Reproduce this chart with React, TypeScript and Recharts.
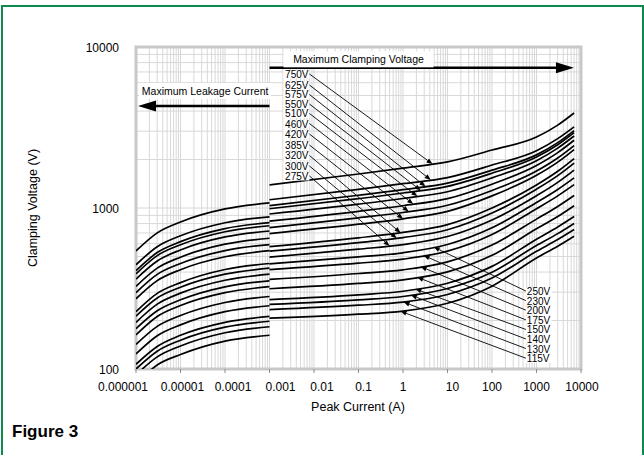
import React from 'react';
import {
  LineChart,
  Line,
  XAxis,
  YAxis,
  CartesianGrid,
  ReferenceLine,
  ReferenceDot,
  ReferenceArea,
} from 'recharts';

const FONT = "'Liberation Sans', Arial, sans-serif";

// varistor ratings, top curve first
const ratings = [
  '750V', '625V', '575V', '550V', '510V', '460V', '420V', '385V', '320V', '300V', '275V',
  '250V', '230V', '200V', '175V', '150V', '140V', '130V', '115V',
];

// leakage segment (A) and clamping segment (A)
const leakCurrents = [0.000001, 0.000003, 0.00001, 0.0001, 0.001];
const clampCurrents = [0.001, 0.1, 1, 10, 100, 1000, 3000, 7000];

// volts, one row per rating
const leakVolts = [
  [541, 701, 819, 987, 1075],
  [444, 575, 672, 810, 882],
  [408, 529, 618, 745, 811],
  [390, 506, 591, 712, 776],
  [362, 469, 549, 661, 720],
  [326, 423, 495, 596, 649],
  [298, 387, 452, 544, 593],
  [273, 354, 414, 498, 543],
  [227, 295, 344, 415, 452],
  [213, 276, 322, 388, 423],
  [195, 253, 296, 356, 388],
  [178, 230, 269, 324, 353],
  [163, 212, 248, 298, 325],
  [142, 184, 215, 259, 282],
  [124, 161, 188, 227, 247],
  [107, 138, 162, 195, 212],
  [100, 129, 151, 182, 198],
  [92, 119, 139, 168, 183],
  [81, 106, 123, 149, 162],
];

const clampVolts = [
  [1390, 1626, 1770, 1932, 2291, 2761, 3273, 3890],
  [1125, 1306, 1416, 1545, 1849, 2270, 2698, 3192],
  [1035, 1200, 1300, 1426, 1718, 2138, 2547, 3027],
  [990, 1143, 1239, 1361, 1644, 2075, 2472, 2938],
  [918, 1057, 1146, 1262, 1538, 1968, 2355, 2800],
  [828, 953, 1033, 1143, 1406, 1837, 2208, 2636],
  [756, 869, 938, 1040, 1285, 1698, 2046, 2443],
  [693, 793, 857, 953, 1189, 1596, 1928, 2307],
  [576, 653, 705, 789, 1000, 1390, 1690, 2028],
  [540, 610, 655, 733, 931, 1309, 1589, 1901],
  [495, 555, 593, 665, 843, 1191, 1442, 1718],
  [450, 497, 527, 593, 753, 1081, 1303, 1538],
  [414, 454, 481, 540, 685, 989, 1189, 1396],
  [360, 392, 413, 463, 589, 853, 1023, 1197],
  [315, 340, 358, 401, 508, 743, 885, 1033],
  [270, 289, 304, 341, 434, 640, 762, 885],
  [252, 269, 282, 316, 399, 585, 693, 802],
  [234, 249, 260, 290, 367, 538, 637, 735],
  [207, 219, 229, 256, 327, 489, 579, 668],
];

const xDecades = [0.000001, 0.00001, 0.0001, 0.001, 0.01, 0.1, 1, 10, 100, 1000, 10000];
const xTickLabels = ['0.000001', '0.00001', '0.0001', '0.001', '0.01', '0.1', '1', '10', '100', '1000', '10000'];
const yTickLabels = ['100', '1000', '10000'];

// labels on the left stack (750V..275V) and right stack (250V..115V)
const upperLabelCurrent = 0.0079;
const upperLabelVolts = [6798, 5808, 5070, 4426, 3864, 3348, 2881, 2462, 2119, 1824, 1581];
const upperTipCurrents = [4.6, 4.2, 3.2, 2.5, 2.1, 1.7, 1.34, 1.0, 0.88, 0.72, 0.5];
const lowerLabelCurrent = 577;
const lowerLabelVolts = [305, 266, 232, 202, 176, 153.6, 134, 116.7];
const lowerTipCurrents = [4.9, 2.9, 2.5, 2.1, 1.9, 1.5, 1.03, 0.88];

// tick label nudges (px), the original labels are not centred on the ticks
const xLabelShift = [-13, 2, 8, 11, 8, 5, 0, 5, 0, 0, 1];

const steps = [1, 2, 3, 4, 5, 6, 7, 8, 9];
const xGridTicks = xDecades.slice(0, -1).flatMap((d) => steps.map((k) => k * d)).concat([10000]);
const yGridTicks = [100, 1000].flatMap((d) => steps.map((k) => k * d)).concat([10000]);

const curves = ratings.map((name, r) => ({
  name,
  leak: leakCurrents.map((i, k) => ({ i, v: leakVolts[r][k] })),
  clamp: clampCurrents.map((i, k) => ({ i, v: clampVolts[r][k] })),
}));

function voltageAt(volts: number[], amps: number) {
  for (let k = 0; k < clampCurrents.length - 1; k++) {
    const a = clampCurrents[k];
    const b = clampCurrents[k + 1];
    if (amps >= a && amps <= b) {
      const t = Math.log(amps / a) / Math.log(b / a);
      return volts[k] * Math.pow(volts[k + 1] / volts[k], t);
    }
  }
  return volts[volts.length - 1];
}

const XTick = (props: any) => {
  const { x, y, index } = props;
  if (index % 9 !== 0) return <g />;
  const d = index / 9;
  return (
    <g>
      <line x1={x} x2={x} y1={y - 8} y2={y - 4} stroke="#8c8c8c" strokeWidth={1} />
      <text x={x + xLabelShift[d]} y={y + 13.5} textAnchor="middle" fontSize={12} fontFamily={FONT} fill="#000">
        {xTickLabels[d]}
      </text>
    </g>
  );
};

const YTick = (props: any) => {
  const { y, index } = props;
  if (index % 9 !== 0) return <g />;
  return (
    <text x={119} y={y + 4.5} textAnchor="end" fontSize={12} fontFamily={FONT} fill="#000">
      {yTickLabels[index / 9]}
    </text>
  );
};

const Leader = (props: any) => {
  const { x1, y1, x2, y2, text, side } = props;
  const dx = x2 - x1;
  const dy = y2 - y1;
  const len = Math.hypot(dx, dy) || 1;
  const ux = dx / len;
  const uy = dy / len;
  const hl = 6;
  const hw = 2.4;
  const bx = x2 - ux * hl;
  const by = y2 - uy * hl;
  const head = `${x2},${y2} ${bx - uy * hw},${by + ux * hw} ${bx + uy * hw},${by - ux * hw}`;
  const left = side === 'left';
  return (
    <g>
      <rect x={left ? x1 - 26 : x1} y={y1 - 3.5} width={26} height={8} fill="#fff" />
      <line x1={x1} y1={y1} x2={bx} y2={by} stroke="#000" strokeWidth={0.9} />
      <polygon points={head} fill="#000" />
      <text
        x={left ? x1 - 1 : x1 + 1}
        y={y1 + 4}
        textAnchor={left ? 'end' : 'start'}
        fontSize={10}
        fontFamily={FONT}
        fill="#000"
      >
        {text}
      </text>
    </g>
  );
};

const BigArrow = (props: any) => {
  const { x1, y1, x2, y2 } = props;
  const dir = Math.sign(x2 - x1);
  const hl = 18;
  const hw = 5.5;
  return (
    <g>
      <line x1={x1} y1={y1} x2={x2 - dir * hl} y2={y2} stroke="#000" strokeWidth={2.4} />
      <polygon points={`${x2},${y2} ${x2 - dir * hl},${y2 - hw} ${x2 - dir * hl},${y2 + hw}`} fill="#000" />
    </g>
  );
};

const Note = (props: any) => {
  const { cx, cy, text, w } = props;
  return (
    <g>
      <rect x={cx - w / 2} y={cy - 8} width={w} height={16} fill="#fff" />
      <text x={cx} y={cy + 4} textAnchor="middle" fontSize={10.5} fontFamily={FONT} fill="#000">
        {text}
      </text>
    </g>
  );
};

export default function App() {
  return (
    <div style={{ position: 'absolute', left: 0, top: 0, width: 644, height: 455, background: '#fff', overflow: 'hidden' }}>
      <div
        style={{
          position: 'absolute',
          left: 1,
          top: 5,
          width: 639,
          height: 470,
          border: '2px solid #0d8a4e',
        }}
      />
      <div style={{ position: 'absolute', left: 0, top: 0 }}>
        <LineChart width={644} height={455} margin={{ top: 47, right: 63, bottom: 56, left: 76 }}>
          <CartesianGrid stroke="#d8d8d8" strokeWidth={1} />
          <XAxis
            type="number"
            dataKey="i"
            scale="log"
            domain={[0.000001, 10000]}
            ticks={xGridTicks}
            interval={0}
            tick={<XTick />}
            tickLine={false}
            axisLine={false}
            allowDataOverflow
            height={30}
          />
          <YAxis
            type="number"
            dataKey="v"
            scale="log"
            domain={[100, 10000]}
            ticks={yGridTicks}
            interval={0}
            tick={<YTick />}
            tickLine={false}
            axisLine={false}
            allowDataOverflow
            width={60}
          />
          {curves.map((c) => (
            <Line
              key={c.name + '-leak'}
              data={c.leak}
              dataKey="v"
              type="monotone"
              stroke="#000"
              strokeWidth={1.7}
              dot={false}
              isAnimationActive={false}
            />
          ))}
          {curves.map((c) => (
            <Line
              key={c.name + '-clamp'}
              data={c.clamp}
              dataKey="v"
              type="monotone"
              stroke="#000"
              strokeWidth={1.7}
              dot={false}
              isAnimationActive={false}
            />
          ))}
          <ReferenceArea
            x1={0.000001}
            x2={10000}
            y1={100}
            y2={10000}
            fill="none"
            stroke="#c8c8c8"
            strokeWidth={3}
            ifOverflow="visible"
          />
          <ReferenceDot x={0.1} y={8386} r={0} ifOverflow="visible" shape={(p: any) => <Note {...p} text="Maximum Clamping Voltage" w={150} />} />
          <ReferenceDot x={0.0000358} y={5329} r={0} ifOverflow="visible" shape={(p: any) => <Note {...p} text="Maximum Leakage Current" w={132} />} />
          <ReferenceLine
            segment={[{ x: 0.001, y: 7435 }, { x: 6950, y: 7435 }]}
            ifOverflow="visible"
            shape={(p: any) => <BigArrow {...p} />}
          />
          <ReferenceLine
            segment={[{ x: 0.001, y: 4300 }, { x: 0.00000111, y: 4300 }]}
            ifOverflow="visible"
            shape={(p: any) => <BigArrow {...p} />}
          />
          {upperLabelVolts.map((v, k) => (
            <ReferenceLine
              key={'u' + k}
              segment={[
                { x: upperLabelCurrent, y: v },
                { x: upperTipCurrents[k], y: voltageAt(clampVolts[k], upperTipCurrents[k]) },
              ]}
              ifOverflow="visible"
              shape={(p: any) => <Leader {...p} text={ratings[k]} side="left" />}
            />
          ))}
          {lowerLabelVolts.map((v, k) => (
            <ReferenceLine
              key={'l' + k}
              segment={[
                { x: lowerLabelCurrent, y: v },
                { x: lowerTipCurrents[k], y: voltageAt(clampVolts[k + 11], lowerTipCurrents[k]) },
              ]}
              ifOverflow="visible"
              shape={(p: any) => <Leader {...p} text={ratings[k + 11]} side="right" />}
            />
          ))}
          <text x={358} y={411} textAnchor="middle" fontSize={12.5} fontFamily={FONT} fill="#000">
            Peak Current (A)
          </text>
          <text x={37} y={208} transform="rotate(-90 37 208)" textAnchor="middle" fontSize={12.5} fontFamily={FONT} fill="#000">
            Clamping Voltage (V)
          </text>
        </LineChart>
      </div>
      <div
        style={{
          position: 'absolute',
          left: 12,
          top: 422,
          fontFamily: "'Liberation Sans Narrow', 'Liberation Sans', Arial, sans-serif",
          fontWeight: 'bold',
          fontSize: 17,
          color: '#000',
        }}
      >
        Figure 3
      </div>
    </div>
  );
}
